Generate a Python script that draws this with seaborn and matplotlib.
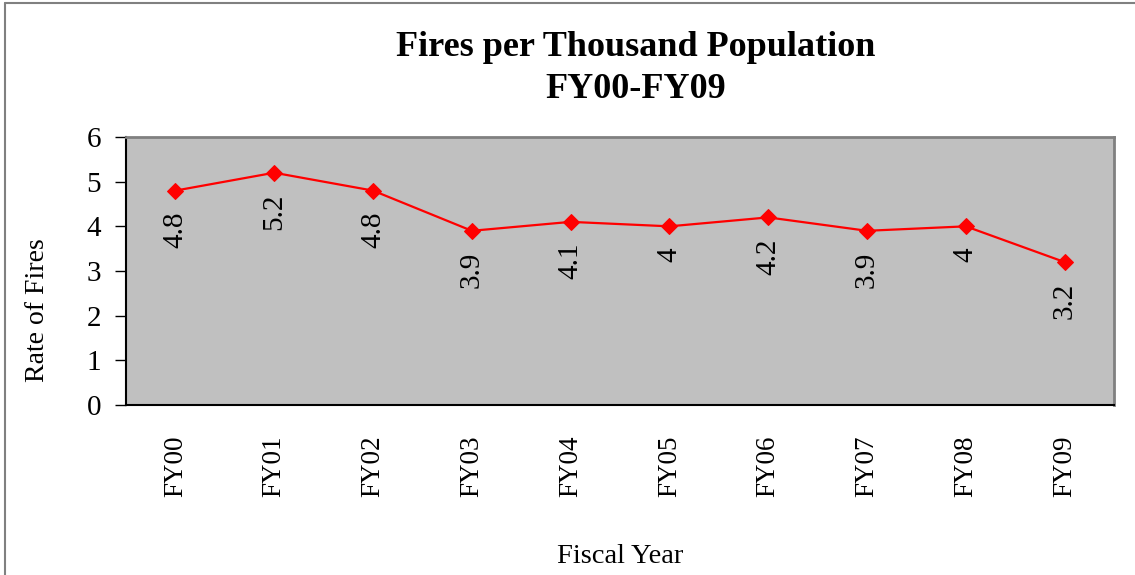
import matplotlib
matplotlib.use("Agg")
import matplotlib.pyplot as plt
import matplotlib.lines as mlines
import seaborn as sns
import pandas as pd

years = ["FY00", "FY01", "FY02", "FY03", "FY04", "FY05", "FY06", "FY07", "FY08", "FY09"]
rates = [4.8, 5.2, 4.8, 3.9, 4.1, 4.0, 4.2, 3.9, 4.0, 3.2]
rate_labels = ["4.8", "5.2", "4.8", "3.9", "4.1", "4", "4.2", "3.9", "4", "3.2"]

df = pd.DataFrame({"year": years, "rate": rates})

sns.set_style("white")
plt.rcParams["font.family"] = ["Liberation Serif", "DejaVu Serif"]
plt.rcParams["text.color"] = "black"
plt.rcParams["axes.labelcolor"] = "black"
plt.rcParams["xtick.color"] = "black"
plt.rcParams["ytick.color"] = "black"

fig = plt.figure(figsize=(11.35, 5.75), dpi=100)
ax = fig.add_axes([126 / 1135, 1 - 405 / 575, 988 / 1135, 268 / 575])
ax.set_facecolor("#C0C0C0")

sns.lineplot(data=df, x="year", y="rate", ax=ax, color="red", linewidth=1.6,
             marker="D", markersize=8, markeredgecolor="red", sort=False)

for i, (v, t) in enumerate(zip(rates, rate_labels)):
    ax.annotate(t, (i, v), xytext=(0, -15), textcoords="offset points",
                rotation=90, ha="center", va="top", fontsize=21, color="black")

ax.set_xlim(-0.5, len(years) - 0.5)
ax.set_ylim(0, 6)
ax.set_yticks(range(0, 7))
ax.set_xticks(range(len(years)))
ax.set_xticklabels(years, rotation=90)
ax.set_xticks([i - 0.5 for i in range(len(years) + 1)], minor=True)
ax.tick_params(axis="x", which="major", length=0, labelsize=19.5, pad=22)
ax.tick_params(axis="x", which="minor", length=8, width=1, color="black", direction="out")
ax.tick_params(axis="y", length=8, width=1, color="black", direction="out",
               labelsize=21, pad=10, left=True)

for s in ["left", "bottom"]:
    ax.spines[s].set_color("black")
    ax.spines[s].set_linewidth(1.5)
for s in ["top", "right"]:
    ax.spines[s].set_color("#808080")
    ax.spines[s].set_linewidth(2)

ax.set_ylabel("Rate of Fires", fontsize=20)
ax.yaxis.set_label_coords(-0.077, 0.354)
ax.set_xlabel("Fiscal Year", fontsize=20.5)
ax.xaxis.set_label_coords(0.5, -0.518)

fig.text(636 / 1135, 1 - 48 / 575, "Fires per Thousand Population", ha="center",
         va="center", fontsize=26, fontweight="bold")
fig.text(636 / 1135, 1 - 90 / 575, "FY00-FY09", ha="center", va="center",
         fontsize=26, fontweight="bold")

# outer chart frame (top and left edges visible)
fig.add_artist(mlines.Line2D([5 / 1135, 5 / 1135], [0, 1 - 3 / 575], color="#808080", lw=1.5))
fig.add_artist(mlines.Line2D([5 / 1135, 1], [1 - 3 / 575, 1 - 3 / 575], color="#808080", lw=1.5))

fig.savefig("out.png", dpi=100)
